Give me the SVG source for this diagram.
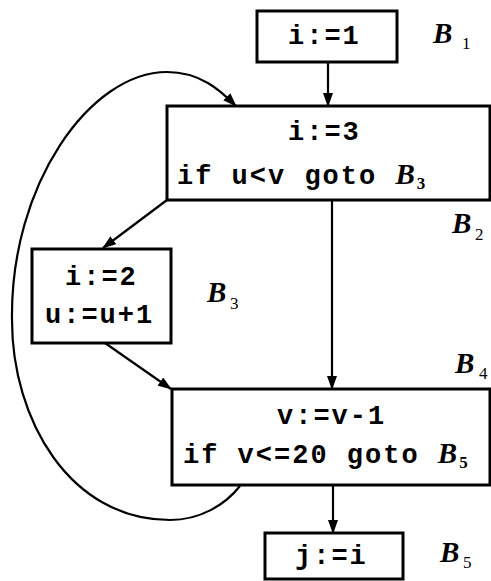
<svg xmlns="http://www.w3.org/2000/svg" width="491" height="581" viewBox="0 0 491 581">
<style>
.box{fill:#fff;stroke:#000;stroke-width:3}
.code{font-family:"Liberation Mono",monospace;font-weight:bold;font-size:27px;letter-spacing:2px;fill:#000}
.lab{font-family:"Liberation Serif",serif;font-weight:bold;font-style:italic;font-size:29px;fill:#000}
.sub{font-family:"Liberation Serif",serif;font-size:17px;fill:#000}
.edge{fill:none;stroke:#000;stroke-width:2.2}
</style>
<defs>
<marker id="ah" markerWidth="14" markerHeight="10" refX="13" refY="5" orient="auto" markerUnits="userSpaceOnUse">
<path d="M0,0 L14,5 L0,10 Z" fill="#000"/>
</marker>
</defs>
<g id="connectors">
<line class="edge" x1="328" y1="62" x2="328" y2="106" marker-end="url(#ah)"/>
<line class="edge" x1="332" y1="200" x2="332" y2="389" marker-end="url(#ah)"/>
<line class="edge" x1="333" y1="485" x2="333" y2="533" marker-end="url(#ah)"/>
<line class="edge" x1="167" y1="200" x2="103" y2="248" marker-end="url(#ah)"/>
<line class="edge" x1="105" y1="343" x2="171" y2="389" marker-end="url(#ah)"/>
<path class="edge" d="M240,486 C225,505 200,520 170,520 C70,520 12,420 12,320 C10,185 90,72 167,72 C200,72 220,90 236,106" marker-end="url(#ah)"/>
</g>
<g id="B1">
<rect class="box" x="257" y="11" width="140" height="51"/>
<text class="code" x="288" y="44">i:=1</text>
<text class="lab" x="433" y="43">B</text><text class="sub" x="462" y="49">1</text>
</g>
<g id="B2">
<rect class="box" x="167" y="106" width="323" height="94"/>
<text class="code" x="288" y="140">i:=3</text>
<text class="code" x="177" y="184">if u&lt;v goto <tspan class="lab" font-size="27">B</tspan><tspan class="sub" font-size="15" dy="5">3</tspan></text>
<text class="lab" x="452" y="233">B</text><text class="sub" x="475" y="240">2</text>
</g>
<g id="B3">
<rect class="box" x="32" y="249" width="139" height="94"/>
<text class="code" x="65" y="285">i:=2</text>
<text class="code" x="45" y="323">u:=u+1</text>
<text class="lab" x="207" y="302">B</text><text class="sub" x="230" y="309">3</text>
</g>
<g id="B4">
<rect class="box" x="172" y="389" width="318" height="96"/>
<text class="code" x="277" y="424">v:=v-1</text>
<text class="code" x="183" y="463">if v&lt;=20 goto <tspan class="lab" font-size="27">B</tspan><tspan class="sub" font-size="15" dy="5">5</tspan></text>
<text class="lab" x="455" y="373">B</text><text class="sub" x="479" y="379">4</text>
</g>
<g id="B5">
<rect class="box" x="265" y="533" width="138" height="46"/>
<text class="code" x="295" y="564">j:=i</text>
<text class="lab" x="440" y="562">B</text><text class="sub" x="463" y="568">5</text>
</g>
</svg>
